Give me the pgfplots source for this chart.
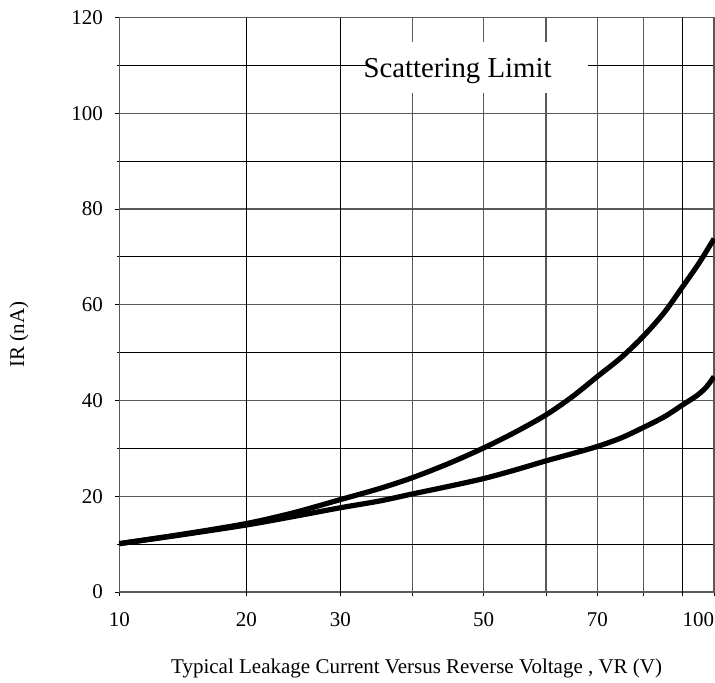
\documentclass[border=0pt]{standalone}
\usepackage{pgfplots}
\pgfplotsset{compat=1.18}
\usepackage{fontspec}
\setmainfont{Liberation Serif}
\begin{document}
\begin{tikzpicture}
\begin{axis}[
  name=ax,
  scale only axis,
  width=297.35pt, height=287.25pt,
  xmin=0, xmax=594.7, ymin=0, ymax=120,
  /pgf/number format/assume math mode=true,
  font=\fontsize{10.5}{12}\selectfont,
  xtick={0,127,221,293.4,364.4,426.7,478,524.4,563.4,594.7},
  xticklabels={10,20,30,,50,,70,,,\makebox[0pt][r]{100}},
  ytick={0,20,...,120},
  minor ytick={10,30,...,110},
  xmajorgrids, ymajorgrids, yminorgrids,
  major grid style={gray!70!black, line width=0.6pt},
  minor grid style={black, line width=0.5pt},
  extra x ticks={127,221,563.4},
  extra x tick labels={},
  extra x tick style={grid=major, major grid style={black, line width=0.5pt}},
  xtick pos=left, ytick pos=left,
  tick align=outside,
  major tick length=2pt, minor tick length=1pt,
  tick style={black, line width=0.5pt},
  axis line style={gray!70!black, line width=0.7pt},
  xticklabel style={anchor=base, inner sep=0pt, yshift=-15pt},
  yticklabel style={anchor=east, inner sep=0pt, xshift=-6pt},
  xlabel={Typical Leakage Current Versus Reverse Voltage , VR (V)},
  xlabel style={at={(axis description cs:0.5,0)}, anchor=base, inner sep=0pt, yshift=-40.5pt},
  ylabel={IR (nA)},
  ylabel style={at={(axis description cs:-0.1602,0.4479)}, anchor=base, inner sep=0pt},
  clip=false,
]
\addplot[black, line width=2.6pt, smooth] coordinates {
(0,10.1) (64,12.1) (127,14.3) (175,16.6) (221,19.3) (260,21.6) (293.4,23.9)
(330,26.9) (364.4,30.1) (396,33.4) (426.7,37.0) (453,40.8) (478,45.0)
(502,49.0) (524.4,53.5) (545,58.4) (563.4,63.8) (580,68.8) (594.7,73.8)
};
\addplot[black, line width=2.6pt, smooth] coordinates {
(0,10.1) (64,12.0) (127,14.0) (175,15.8) (221,17.6) (260,19.0) (293.4,20.5)
(330,22.1) (364.4,23.7) (396,25.5) (426.7,27.4) (453,28.9) (478,30.4)
(502,32.2) (524.4,34.4) (545,36.6) (563.4,39.1) (577.4,41.0) (587,42.8) (594.7,45.0)
};
\node[fill=white, minimum width=110pt, minimum height=25.5pt, inner sep=0pt] at (axis cs:358.7,109.56) {};
\node[anchor=base, inner sep=0pt, font=\fontsize{14.4}{17}\selectfont] at (axis cs:338.2,107.5) {Scattering Limit};
\end{axis}
\pgfresetboundingbox
\path[use as bounding box] ([shift={(-59.65pt,-45pt)}]ax.south west) rectangle ([shift={(297.85pt,296pt)}]ax.south west);
\end{tikzpicture}
\end{document}
